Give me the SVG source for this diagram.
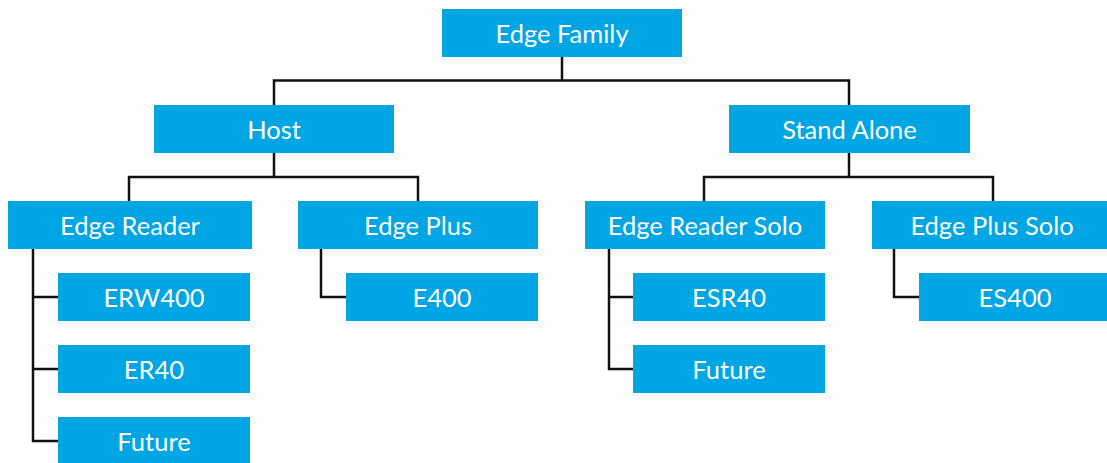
<svg xmlns="http://www.w3.org/2000/svg" width="1107" height="463" viewBox="0 0 1107 463">
<style>
.box{fill:#00A5E3}
.t{font-family:Lato,"Open Sans","Liberation Sans",sans-serif;font-size:25.5px;fill:#fff;text-anchor:middle}
.c{fill:none;stroke:#111;stroke-width:2.5;stroke-linejoin:miter}
</style>
<rect width="1107" height="463" fill="#fff"/>
<g id="connectors" class="c">
<path d="M562 57V80.5M274 105V80.5H849V105"/>
<path d="M274 153V177M129 201V177H418V201"/>
<path d="M849 153V177M704 201V177H993V201"/>
<path d="M33 249V441H58M33 297H58M33 369H58"/>
<path d="M321 249V297H346"/>
<path d="M609 249V369H633M609 297H633"/>
<path d="M894 249V297H919"/>
</g>
<g id="edge-family"><rect class="box" x="442" y="9" width="240" height="48"/><text class="t" x="562" y="42.5">Edge Family</text></g>
<g id="host"><rect class="box" x="154" y="105" width="240" height="48"/><text class="t" x="274" y="138.5">Host</text></g>
<g id="stand-alone"><rect class="box" x="729" y="105" width="241" height="48"/><text class="t" x="849.5" y="138.5">Stand Alone</text></g>
<g id="edge-reader"><rect class="box" x="8" y="201" width="244" height="48"/><text class="t" x="130" y="234.5">Edge Reader</text></g>
<g id="edge-plus"><rect class="box" x="298" y="201" width="240" height="48"/><text class="t" x="418" y="234.5">Edge Plus</text></g>
<g id="edge-reader-solo"><rect class="box" x="585" y="201" width="240" height="48"/><text class="t" x="705" y="234.5">Edge Reader Solo</text></g>
<g id="edge-plus-solo"><rect class="box" x="872" y="201" width="240" height="48"/><text class="t" x="992" y="234.5">Edge Plus Solo</text></g>
<g id="erw400"><rect class="box" x="58" y="273" width="192" height="48"/><text class="t" x="154" y="306.5">ERW400</text></g>
<g id="er40"><rect class="box" x="58" y="345" width="192" height="48"/><text class="t" x="154" y="378.5">ER40</text></g>
<g id="future-1"><rect class="box" x="58" y="417" width="192" height="48"/><text class="t" x="154" y="450.5">Future</text></g>
<g id="e400"><rect class="box" x="346" y="273" width="192" height="48"/><text class="t" x="442" y="306.5">E400</text></g>
<g id="esr40"><rect class="box" x="633" y="273" width="192" height="48"/><text class="t" x="729" y="306.5">ESR40</text></g>
<g id="future-2"><rect class="box" x="633" y="345" width="192" height="48"/><text class="t" x="729" y="378.5">Future</text></g>
<g id="es400"><rect class="box" x="919" y="273" width="192" height="48"/><text class="t" x="1015" y="306.5">ES400</text></g>
</svg>
